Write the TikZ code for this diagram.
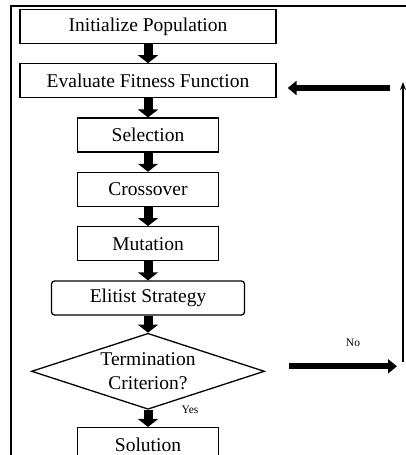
\documentclass[tikz,border=0pt]{standalone}
\usepackage{fontspec}
\setmainfont{Liberation Serif}
\usepackage{tikz}
\usetikzlibrary{
        arrows.meta,
        positioning,
        shapes,
        shapes.geometric
    }
\tikzset{box/.style={draw,line width=1.3pt,minimum height=34pt,inner sep=0pt,
        font=\fontsize{19.5}{22}\selectfont}}
\tikzset{downarrow/.style={line width=9pt,-{Triangle[width=20pt,length=8pt]}}}
\tikzset{sidearrow/.style={line width=6pt,-{Triangle[width=14pt,length=9pt]}}}
\tikzset{smalltext/.style={font=\fontsize{11.5}{13}\selectfont}}

\begin{document}
\begin{tikzpicture}[x=1pt,y=-1pt,node distance=19pt]
                \useasboundingbox (0,0) rectangle (406,455);
                \node[box,minimum width=256pt] (init) at (148,26.5) {Initialize Population};
                \node[box,minimum width=256pt] (eval) [below=of init] {Evaluate Fitness Function};
                \node[box,minimum width=141pt] (sel)  [below=of eval] {Selection};
                \node[box,minimum width=141pt] (cross) [below=of sel] {Crossover};
                \node[box,minimum width=141pt] (mut)  [below=of cross] {Mutation};
                \node[box,minimum width=193pt,rounded corners=3pt] (elit) [below=of mut] {Elitist Strategy};
                \node[box,diamond,aspect=3.07,inner sep=-2pt,minimum width=233pt,minimum height=76pt,align=center,
                    font=\fontsize{19.5}{24}\selectfont] (term) [below=17pt of elit] {Termination\\Criterion?};
                \node[box,minimum width=141pt] (sol)  [below=17pt of term] {Solution};
                \node[smalltext] (yes) at (190,410) {Yes};
                \node[smalltext] (no) at (353,343) {No};
                \coordinate (looptop) at (403,82);
                \coordinate (loopbot) at (403,362);
                \coordinate (fbstart) at (390,88);
                % frame
                \draw[line width=1.8pt] (406,6) -- (11,6) -- (11,455);
                \path[downarrow]
                    (init) edge (eval)
                    (eval) edge (sel)
                    (sel) edge (cross)
                    (cross) edge (mut)
                    (mut) edge (elit)
                    (elit) edge (term)
                    (term) edge (sol);
                \draw[sidearrow,shorten <=24pt,shorten >=6pt] ([yshift=5pt]term.east) -- ([yshift=5pt]term.east -| loopbot);
                \draw[line width=1.5pt,-{Stealth[length=8pt,width=6pt]}] (loopbot) -- (looptop);
                \draw[sidearrow,shorten >=11pt] (fbstart) -- (fbstart -| eval.east);
            \end{tikzpicture}
\end{document}
